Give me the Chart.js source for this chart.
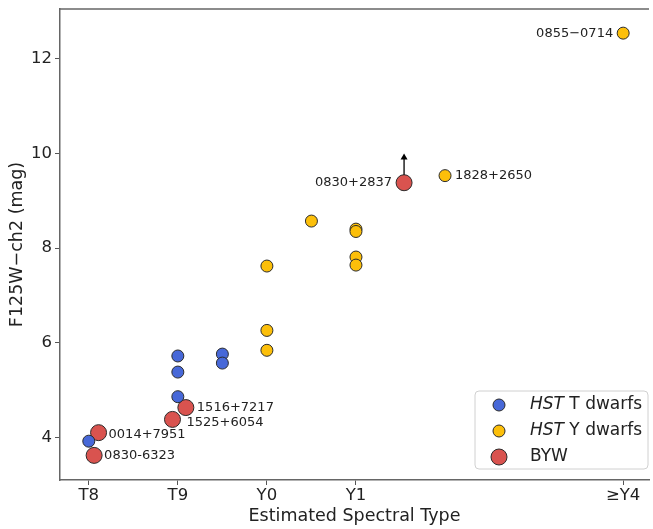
<!DOCTYPE html>
<html>
<head>
<meta charset="utf-8">
<script src="https://cdn.jsdelivr.net/npm/chart.js@4.4.1/dist/chart.umd.min.js"></script>
<style>
  html, body { margin: 0; padding: 0; background: #fff; overflow: hidden; }
  #wrap { width: 653px; height: 529px; overflow: hidden; }
</style>
</head>
<body>
<!-- the plot runs off the right edge, so the canvas is a little wider than the frame -->
<div id="wrap"><canvas id="chart" width="658" height="529"></canvas></div>
<script>
// spectral type index: T8 = 0, T9 = 1, Y0 = 2, Y1 = 3, ... Y4 = 6
const tickTypes = [0, 1, 2, 3, 6];
const tickNames = ["T8", "T9", "Y0", "Y1", "\u2265Y4"];
const colorTicks = [4, 6, 8, 10, 12];

// HST T dwarfs
const tType = [0, 1, 1, 1, 1.5, 1.5];
const tColor = [3.92, 5.72, 5.38, 4.86, 5.76, 5.57];

// HST Y dwarfs
const yType = [2, 2, 2, 2.5, 3, 3, 3, 3, 4, 6];
const yColor = [7.62, 6.26, 5.84, 8.57, 8.40, 8.35, 7.81, 7.64, 9.53, 12.54];
const yNames = ["", "", "", "", "", "", "", "", "1828+2650", "0855\u22120714"];

// Backyard Worlds discoveries
const bywNames = ["0014+7951", "0830-6323", "1525+6054", "1516+7217", "0830+2837"];
const bywType = [0.11, 0.06, 0.94, 1.09, 3.54];
const bywColor = [4.10, 3.62, 4.38, 4.63, 9.38];
// 0830+2837 is a lower limit
const limitName = "0830+2837";
const limitTo = 10.0;

const BLUE = "#4768d8";
const GOLD = "#fcbf0a";
const RED = "#d9534f";
const EDGE = "#2b2b2b";
const FONT = "'DejaVu Sans', sans-serif";

const toPoints = (xs, ys) => xs.map((x, i) => ({ x: x, y: ys[i] }));

// where each name sits next to its marker: [dx, dy, align]
const labelPlace = {
  "0014+7951": [10, 2, "left"],
  "0830-6323": [10, 0, "left"],
  "1525+6054": [14, 3, "left"],
  "1516+7217": [11, 0, "left"],
  "0830+2837": [-12, 0, "right"],
  "1828+2650": [10, 0, "left"],
  "0855\u22120714": [-10, 0, "right"]
};

// no automatic room for tick labels at the ends of the axes
function noPadding(scale) {
  scale.paddingLeft = 0;
  scale.paddingRight = 0;
  scale.paddingTop = 0;
  scale.paddingBottom = 0;
}

const overlay = {
  id: "overlay",
  afterDatasetsDraw(chart) {
    const ctx = chart.ctx;
    const xs = chart.scales.x, ys = chart.scales.y;
    const area = chart.chartArea;

    // top spine
    ctx.save();
    ctx.strokeStyle = "#666";
    ctx.lineWidth = 1.5;
    ctx.beginPath();
    ctx.moveTo(area.left, area.top);
    ctx.lineTo(area.right, area.top);
    ctx.stroke();

    // upward arrow on the lower limit
    const li = bywNames.indexOf(limitName);
    const ax = xs.getPixelForValue(bywType[li]);
    const ay0 = ys.getPixelForValue(bywColor[li]) - 8;
    const ay1 = ys.getPixelForValue(limitTo);
    ctx.strokeStyle = "#000";
    ctx.fillStyle = "#000";
    ctx.lineWidth = 1.3;
    ctx.beginPath();
    ctx.moveTo(ax, ay0);
    ctx.lineTo(ax, ay1 + 5);
    ctx.stroke();
    ctx.beginPath();
    ctx.moveTo(ax, ay1);
    ctx.lineTo(ax - 3.5, ay1 + 6);
    ctx.lineTo(ax + 3.5, ay1 + 6);
    ctx.closePath();
    ctx.fill();

    // object names
    ctx.font = "13px " + FONT;
    ctx.fillStyle = "#222";
    ctx.textBaseline = "middle";
    const named = [];
    bywNames.forEach((n, i) => named.push([n, bywType[i], bywColor[i]]));
    yNames.forEach((n, i) => { if (n) named.push([n, yType[i], yColor[i]]); });
    named.forEach(([n, tx, ty]) => {
      const p = labelPlace[n];
      ctx.textAlign = p[2];
      ctx.fillText(n, xs.getPixelForValue(tx) + p[0], ys.getPixelForValue(ty) + p[1]);
    });

    // legend
    const bx = 475, by = 391, bw = 173, bh = 78;
    ctx.beginPath();
    ctx.roundRect(bx, by, bw, bh, 4);
    ctx.fillStyle = "rgba(255,255,255,0.85)";
    ctx.fill();
    ctx.strokeStyle = "#d0d0d0";
    ctx.lineWidth = 1;
    ctx.stroke();
    const rows = [
      [BLUE, 6, "HST", " T dwarfs"],
      [GOLD, 6, "HST", " Y dwarfs"],
      [RED, 8, "", "BYW"]
    ];
    rows.forEach((r, k) => {
      const cy = 405 + k * 26;
      ctx.beginPath();
      ctx.arc(499, cy, r[1], 0, Math.PI * 2);
      ctx.fillStyle = r[0];
      ctx.fill();
      ctx.strokeStyle = EDGE;
      ctx.lineWidth = 1;
      ctx.stroke();
      ctx.fillStyle = "#222";
      ctx.textAlign = "left";
      let tx = 530;
      if (r[2]) {
        ctx.font = "italic 17px " + FONT;
        ctx.fillText(r[2], tx, cy);
        tx += ctx.measureText(r[2]).width;
      }
      ctx.font = "17px " + FONT;
      ctx.fillText(r[3], tx, cy);
    });
    ctx.restore();
  }
};

new Chart(document.getElementById("chart"), {
  type: "scatter",
  data: {
    datasets: [
      {
        label: "HST T dwarfs",
        data: toPoints(tType, tColor),
        backgroundColor: BLUE,
        borderColor: EDGE,
        borderWidth: 1,
        pointRadius: 6
      },
      {
        label: "HST Y dwarfs",
        data: toPoints(yType, yColor),
        backgroundColor: GOLD,
        borderColor: EDGE,
        borderWidth: 1,
        pointRadius: 6
      },
      {
        label: "BYW",
        data: toPoints(bywType, bywColor),
        backgroundColor: RED,
        borderColor: EDGE,
        borderWidth: 1,
        pointRadius: 8
      }
    ]
  },
  options: {
    responsive: false,
    animation: false,
    devicePixelRatio: 1,
    layout: { padding: { top: 5, right: 0, left: 0, bottom: 0 } },
    plugins: {
      legend: { display: false },
      tooltip: { enabled: false }
    },
    scales: {
      x: {
        type: "linear",
        min: -0.323,
        max: 6.29,
        afterFit(scale) {
          scale.height = 49;
          noPadding(scale);
        },
        afterBuildTicks(scale) { scale.ticks = tickTypes.map(v => ({ value: v })); },
        ticks: {
          callback: (v) => tickNames[tickTypes.indexOf(v)],
          font: { family: FONT, size: 16.5 },
          color: "#222",
          padding: 1,
          maxRotation: 0
        },
        grid: { display: true, drawOnChartArea: false, drawTicks: true, tickLength: 5, tickColor: "#555", tickWidth: 1 },
        border: { display: true, color: "#666", width: 1.5 },
        title: {
          display: true,
          text: "Estimated Spectral Type",
          font: { family: FONT, size: 17.5 },
          color: "#222",
          padding: { top: 0, bottom: 2 }
        }
      },
      y: {
        type: "linear",
        min: 3.10,
        max: 13.05,
        afterFit(scale) {
          scale.width = 60;
          noPadding(scale);
        },
        afterBuildTicks(scale) { scale.ticks = colorTicks.map(v => ({ value: v })); },
        ticks: {
          font: { family: FONT, size: 16.5 },
          color: "#222",
          padding: 3
        },
        grid: { display: true, drawOnChartArea: false, drawTicks: true, tickLength: 5, tickColor: "#555", tickWidth: 1 },
        border: { display: true, color: "#666", width: 1.5 },
        title: {
          display: true,
          text: "F125W\u2212ch2 (mag)",
          font: { family: FONT, size: 17.5 },
          color: "#222",
          padding: { top: 7, bottom: 0 }
        }
      }
    }
  },
  plugins: [overlay]
});
</script>
</body>
</html>
